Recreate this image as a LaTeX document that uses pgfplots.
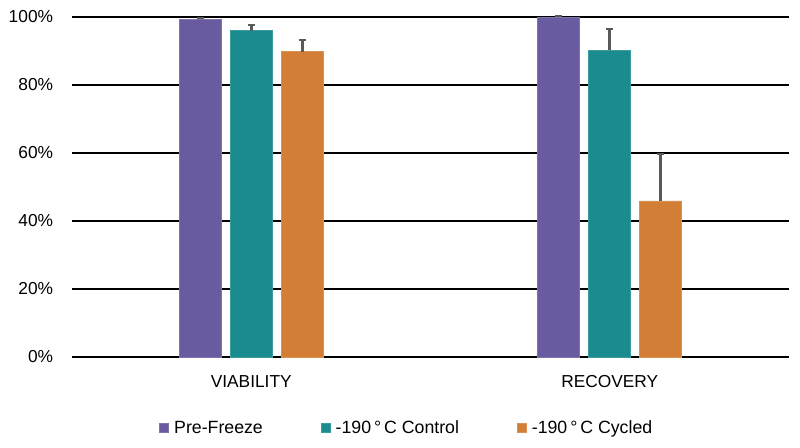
\documentclass[border=0pt]{standalone}
\usepackage{fontspec}
\setmainfont{Liberation Sans}
\usepackage{pgfplots}
\pgfplotsset{compat=1.18}

\definecolor{cpurple}{HTML}{6A5AA0}
\definecolor{cteal}{HTML}{1A8C90}
\definecolor{corange}{HTML}{D37E37}
\definecolor{cerr}{HTML}{595959}

\begin{document}
\begin{tikzpicture}
\path[use as bounding box] (-54pt,-67.5pt) rectangle (546pt,267.75pt);
\begin{axis}[
    at={(0,0)}, anchor=south west,
    scale only axis,
    width=537.75pt, height=255pt,
    ybar=6.75pt, bar width=31.5pt,
    xmin=-0.5, xmax=1.5,
    ymin=0, ymax=100,
    xtick={0,1}, xticklabels={VIABILITY,RECOVERY},
    ytick={0,20,...,100},
    yticklabel={\pgfmathprintnumber{\tick}\%},
    /pgf/number format/assume math mode=true,
    major tick length=0pt,
    ymajorgrids,
    grid style={black, line width=1pt},
    axis x line*=bottom, axis y line*=left,
    x axis line style={black, line width=1pt, -},
    y axis line style={draw=none},
    tick label style={font=\fontsize{13}{15}\selectfont, black},
    yticklabel style={anchor=east, inner sep=0pt, xshift=-14pt},
    xticklabel style={anchor=base, inner sep=0pt, yshift=-23.2pt},
    clip=false,
    error bars/y dir=plus, error bars/y explicit,
    error bars/error bar style={cerr, line width=2.6pt},
    error bars/error mark options={cerr, rotate=90, line width=1.6pt, mark size=2.8pt},
    legend columns=3,
    legend style={draw=none, at={(0.467,-0.2088)}, anchor=center,
        font=\fontsize{13.3}{15}\selectfont,
        nodes={inner sep=1.5pt},
        /tikz/every even column/.append style={column sep=42pt}},
    legend image code/.code={\fill[#1] (0pt,-3.4pt) rectangle (6.8pt,3.4pt); \path (9pt,0pt);},
]
\addplot[fill=cpurple, draw=cpurple!85!white, line width=0.6pt] coordinates {
    (0,99.3) +- (0,0.3)
    (1,100.0) +- (0,0.2)
};
\addplot[fill=cteal, draw=cteal!85!white, line width=0.6pt] coordinates {
    (0,96.0) +- (0,1.7)
    (1,90.2) +- (0,6.3)
};
\addplot[fill=corange, draw=corange!85!white, line width=0.6pt] coordinates {
    (0,89.8) +- (0,3.4)
    (1,45.9) +- (0,13.8)
};
\legend{Pre-Freeze, -190\,°\,C Control, -190\,°\,C Cycled}
\end{axis}
\end{tikzpicture}
\end{document}
